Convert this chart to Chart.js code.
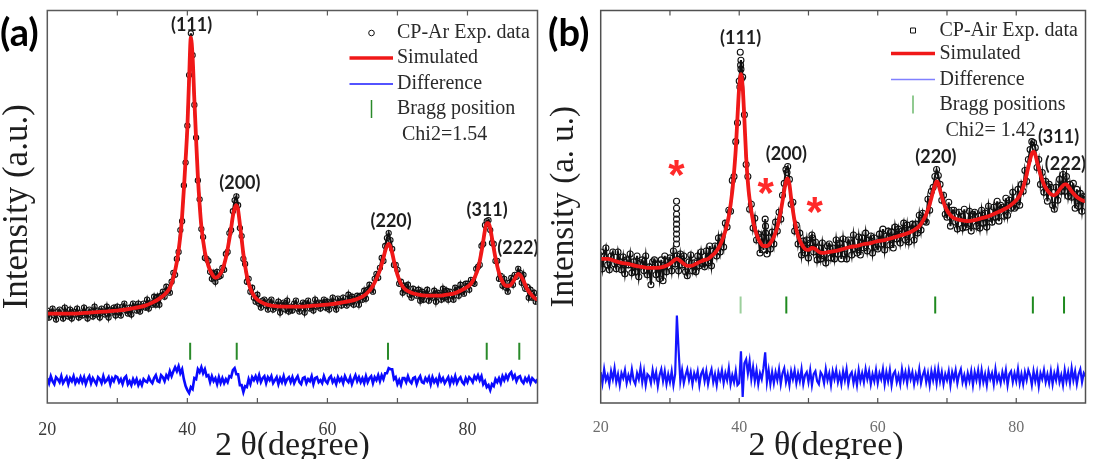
<!DOCTYPE html>
<html>
<head>
<meta charset="utf-8">
<script src="https://cdn.jsdelivr.net/npm/chart.js@4.4.0/dist/chart.umd.min.js"></script>
<style>
  html, body { margin: 0; padding: 0; background: #fff; }
  #wrap { position: relative; width: 1096px; height: 459px; overflow: hidden; }
  canvas { position: absolute; top: 0; }
  #chartA { left: 0; }
  #chartB { left: 548px; }
</style>
</head>
<body>
<div id="wrap">
  <canvas id="chartA" width="548" height="459"></canvas>
  <canvas id="chartB" width="548" height="459"></canvas>
</div>
<script>
// measured patterns share one 2-theta grid: 20 to 90 deg, 0.25 deg step
const thetaStart = 20;
const thetaStep = 0.25;

// ---- (a) CP-Ar ----
const expA = [
  93,86,91,95,88,84,92,94,89,85,96,90,87,94,85,92,89,95,86,91,
  88,96,90,85,94,92,87,97,89,93,86,95,92,89,97,86,94,91,96,88,
  97,91,88,97,100,93,90,96,89,100,97,93,100,92,97,100,96,104,95,101,
  99,107,99,107,99,108,112,107,117,113,111,122,131,129,145,152,174,183,219,242,
  279,330,372,350,300,267,224,205,175,167,146,145,143,132,125,131,122,132,127,128,
  136,134,150,152,171,174,193,204,208,199,176,168,145,140,122,125,112,116,106,102,
  109,100,96,103,104,98,94,102,104,94,99,96,102,91,99,101,94,103,92,97,
  93,100,103,95,92,98,101,91,100,103,95,98,93,104,97,101,95,101,104,96,
  102,94,101,106,98,94,105,103,98,106,101,98,109,101,107,99,105,108,99,108,
  104,113,105,114,119,114,112,125,130,126,136,146,143,158,166,171,164,155,139,139,
  134,120,122,111,118,113,119,109,106,115,111,108,114,103,112,104,110,114,103,108,
  106,113,102,111,109,104,115,106,113,104,112,108,104,116,114,108,119,112,110,120,
  120,114,124,121,120,135,137,139,158,160,179,183,184,174,161,160,143,143,125,128,
  118,125,116,112,121,126,119,129,127,135,131,121,129,115,117,106,114,106,111,102,
  106
];
const diffA = [
  25,20,27,22,19,26,24,21,27,20,23,26,19,25,22,27,20,24,21,26,
  21,26,19,24,27,20,25,22,19,26,24,20,27,21,23,26,19,25,22,27,
  26,21,24,19,25,27,19,22,18,24,20,24,18,22,18,24,22,21,26,22,
  20,25,28,22,21,28,26,22,28,25,32,27,32,36,32,37,30,34,24,17,
  13,10,16,14,25,24,34,31,36,30,34,27,28,21,27,22,25,19,26,20,
  25,20,24,21,27,26,33,35,29,29,18,18,11,17,16,24,19,26,23,27,
  22,28,21,25,27,20,26,23,27,20,23,26,19,25,21,27,20,24,26,21,
  26,20,24,27,21,19,25,26,20,24,22,27,19,25,26,21,23,20,27,22,
  20,25,27,21,24,19,26,22,25,20,27,23,21,26,19,24,28,22,26,21,
  25,20,27,21,25,27,20,26,23,28,22,28,24,30,30,35,34,34,24,26,
  19,23,18,25,25,21,27,22,20,25,26,19,24,27,21,20,25,22,26,19,
  26,21,24,19,27,22,25,20,23,26,19,25,21,27,20,24,26,21,19,25,
  21,26,24,21,27,24,28,23,27,19,22,16,18,13,19,17,24,21,25,20,
  27,23,28,24,29,31,25,28,22,26,27,22,20,25,22,26,20,25,23,21,
  24
];
const simThetaA = [20,22,24,26,28,30,32,34,35,36,37,37.5,38,38.5,39,39.25,39.5,39.75,
  40,40.25,40.5,40.75,41,41.25,41.5,41.75,42,42.5,43,43.5,44,44.5,45,45.5,46,46.25,46.5,46.75,
  47,47.25,47.5,47.75,48,48.5,49,49.5,50,51,52,54,56,58,60,62,64,65,66,66.5,
  67,67.5,68,68.25,68.5,68.75,69,69.25,69.5,70,70.5,71,72,73,74,75,76,77,78,79,
  80,80.5,81,81.5,82,82.25,82.5,82.75,83,83.25,83.5,84,84.5,85,85.5,86,86.5,87,87.25,87.5,
  88,88.5,89,89.5,90];
const simA = [90,90,90,91,92,93,95,98,101,105,111,116,126,142,168,188,215,245,
  277,326,368,348,305,265,228,200,178,152,138,130,126,128,134,146,165,176,188,196,
  199,194,180,165,150,128,115,108,104,100,98,97,97,98,99,101,104,107,113,118,
  125,134,146,153,158,160,157,151,143,129,120,115,111,109,108,108,108,109,110,113,
  117,120,126,135,152,163,174,181,181,176,166,146,131,122,118,118,122,128,130,129,
  123,115,110,106,104];
const braggA = [40.4, 47.05, 68.65, 82.75, 87.4];

// ---- (b) CP-Air ----
const expB = [
  152,135,148,156,139,134,148,152,140,135,152,142,134,147,130,144,139,150,131,142,
  132,148,127,141,144,133,148,129,137,119,142,144,129,140,125,144,123,148,132,143,
  146,133,153,140,148,133,150,139,148,132,128,142,149,133,141,132,148,138,152,140,
  137,153,141,158,138,153,158,148,166,152,167,157,181,177,194,193,224,228,263,282,
  324,345,328,290,240,228,195,200,176,186,164,170,151,167,154,185,150,166,155,172,
  160,182,173,192,185,209,221,235,238,225,200,202,173,179,160,171,149,163,151,164,
  146,161,169,152,162,144,156,145,161,148,141,158,160,146,156,145,164,150,161,145,
  165,150,145,164,161,149,169,155,151,167,149,166,156,171,153,164,168,151,166,157,
  155,170,160,175,154,168,173,159,172,156,177,165,175,161,173,181,164,179,162,175,
  180,164,180,171,189,174,191,183,182,205,194,213,217,228,235,229,220,204,209,190,
  187,202,178,194,194,182,175,192,188,176,195,177,180,193,173,190,192,178,188,176,
  194,181,191,177,198,186,182,197,187,203,183,199,197,188,206,189,204,196,212,196,
  198,215,199,220,213,234,223,245,255,263,262,257,237,245,220,232,212,223,203,220,
  217,199,195,217,204,225,213,230,213,228,208,220,207,221,196,215,198,211,193,208,
  207
];
// stacked readings off the regular grid (impurity spikes and peak tops)
const extraThetaB = [30.95,30.95,30.95,30.95,30.95,30.95,30.95,30.95,30.95,
  40.1,40.15,40.2,40.25,40.3,43.8,43.8,46.9,50.6];
const extraIntB = [160,165,170,175,180,185,190,196,203,
  318,353,340,336,326,178,171,232,166];
const diffB = [
  31,20,34,23,28,19,32,24,35,21,29,18,30,25,33,20,28,22,34,23,
  19,30,24,35,21,32,18,29,27,20,33,23,31,17,28,34,22,32,19,29,
  21,32,18,29,88,53,22,33,20,28,34,23,31,19,30,24,32,18,29,33,
  22,32,19,28,34,21,29,18,31,24,33,20,30,23,35,19,28,21,32,18,
  20,52,6,40,44,30,42,24,36,22,33,19,30,24,35,51,21,33,19,31,
  20,31,23,34,19,30,35,21,29,18,32,24,33,20,30,22,34,19,28,31,
  21,33,18,29,32,22,19,31,28,20,34,23,30,18,32,24,33,21,29,19,
  32,23,34,19,28,31,20,29,18,33,22,30,21,34,24,32,19,29,22,33,
  20,30,24,34,19,31,22,33,18,29,32,21,28,19,34,23,31,20,33,24,
  31,19,29,22,34,20,28,33,21,30,18,32,23,33,20,34,22,31,19,29,
  23,32,18,31,24,33,20,29,34,21,28,19,30,22,32,18,31,23,33,20,
  33,21,29,18,32,24,30,19,34,22,28,20,31,23,33,18,29,32,21,30,
  22,34,20,29,19,31,23,33,28,18,32,22,31,17,30,24,33,21,29,20,
  32,19,30,23,34,21,28,18,33,22,31,20,35,23,32,19,29,34,21,30,
  27
];
const simThetaB = [20,21,22,23,24,25,26,27,28,29,30,30.5,31,31.5,32,32.5,33,34,35,35.5,
  36,36.5,37,37.5,38,38.5,39,39.25,39.5,39.75,40,40.25,40.5,40.75,41,41.25,41.5,42,42.5,43,
  43.5,44,44.5,45,45.5,46,46.25,46.5,46.75,47,47.25,47.5,48,48.5,49,49.5,50,50.5,51,51.5,
  52,53,54,55,56,57,58,59,60,61,62,63,64,65,66,66.5,67,67.5,68,68.25,
  68.5,68.75,69,69.5,70,70.5,71,72,73,74,75,76,77,78,79,80,80.5,81,81.5,82,
  82.25,82.5,82.75,83,83.5,84,84.5,85,85.5,86,86.5,87,87.25,87.5,88,88.5,89,89.5,90];
const simB = [145,145,143,141,140,138,137,136,136,137,140,143,145,143,140,138,138,141,144,145,
  148,151,156,163,173,188,213,232,255,288,318,331,318,285,248,222,205,183,170,162,
  158,158,161,167,177,193,203,214,223,226,220,206,183,168,160,155,154,156,155,152,
  151,152,153,155,157,158,160,161,163,164,166,168,170,173,178,183,190,200,213,219,
  223,221,214,202,194,189,186,184,183,184,186,188,191,194,198,204,209,217,230,245,
  251,253,250,243,230,220,214,210,209,212,217,220,220,218,213,209,206,204,203];
const braggB = [40.2, 46.8, 68.3, 82.4, 86.9];

// annotations
const peakNames = ['(111)', '(200)', '(220)', '(311)', '(222)'];
const labelThetaA = [40.6, 47.5, 69.1, 82.8, 87.2];
const labelIntA = [380, 221, 183, 194, 156];
const labelThetaB = [40.2, 46.8, 68.4, 86.1, 87.1];
const labelIntB = [367, 250, 247, 268, 240];
const starTheta = [30.94, 43.83, 50.9];
const starInt = [236, 218, 199];
const legendA = ['CP-Ar Exp. data', 'Simulated', 'Difference', 'Bragg position', 'Chi2=1.54'];
const legendB = ['CP-Air Exp. data', 'Simulated', 'Difference', 'Bragg positions', 'Chi2= 1.42'];
const tickMarks = [30, 40, 50, 60, 70, 80];

const RED = '#f01818';
const SERIF = '"Liberation Serif", "Times New Roman", serif';

function onGrid(values) {
  return values.map((v, i) => ({ x: thetaStart + i * thetaStep, y: v }));
}
function pairs(xs, ys) {
  return xs.map((v, i) => ({ x: v, y: ys[i] }));
}

function decor(o) {
  return {
    id: 'decor',
    afterDraw(chart) {
      const { ctx, chartArea: a } = chart;
      const x = chart.scales.x, y = chart.scales.y;
      ctx.save();

      // hkl labels
      ctx.fillStyle = '#1e1e1e';
      ctx.font = 'bold 18px Lato';
      ctx.textAlign = 'center';
      ctx.textBaseline = 'middle';
      peakNames.forEach((t, i) => {
        ctx.fillText(t, x.getPixelForValue(o.labelTheta[i]), y.getPixelForValue(o.labelInt[i]));
      });

      // impurity asterisks
      if (o.stars) {
        ctx.fillStyle = '#ff2a2a';
        ctx.font = 'bold 42px "Liberation Sans"';
        ctx.textBaseline = 'alphabetic';
        const m = ctx.measureText('*');
        const shift = (m.actualBoundingBoxAscent - m.actualBoundingBoxDescent) / 2;
        starTheta.forEach((t, i) => {
          ctx.fillText('*', x.getPixelForValue(t), y.getPixelForValue(starInt[i]) + shift);
        });
      }

      // frame with inward ticks
      ctx.strokeStyle = o.frameColor;
      ctx.lineWidth = 1.5;
      ctx.strokeRect(a.left, a.top, a.right - a.left, a.bottom - a.top);
      ctx.beginPath();
      tickMarks.forEach(v => {
        const px = x.getPixelForValue(v);
        ctx.moveTo(px, a.bottom); ctx.lineTo(px, a.bottom - 5);
        ctx.moveTo(px, a.top); ctx.lineTo(px, a.top + 5);
      });
      ctx.lineWidth = 1.2;
      ctx.stroke();

      // panel tag
      ctx.fillStyle = '#000';
      ctx.font = 'bold 38px Lato';
      ctx.textAlign = 'left';
      ctx.textBaseline = 'middle';
      ctx.fillText(o.tag, 0, 34);

      // legend
      const L = o.legend;
      ctx.font = '20px ' + SERIF;
      ctx.fillStyle = '#2a2a2a';
      o.legendText.forEach((t, i) => {
        ctx.fillText(t, i === 4 ? L.chiX : L.textX, L.rows[i]);
      });
      ctx.strokeStyle = '#111';
      ctx.lineWidth = 1;
      ctx.beginPath();
      if (o.square) {
        ctx.rect(L.symX - 2.5, L.rows[0] - 2.5, 5, 5);
      } else {
        ctx.arc(L.symX, L.rows[0], 2.8, 0, Math.PI * 2);
      }
      ctx.stroke();
      ctx.strokeStyle = RED;
      ctx.lineWidth = 3.5;
      ctx.beginPath(); ctx.moveTo(L.lineL, L.rows[1]); ctx.lineTo(L.lineR, L.rows[1]); ctx.stroke();
      ctx.strokeStyle = o.legendBlue;
      ctx.lineWidth = 1.3;
      ctx.beginPath(); ctx.moveTo(L.lineL, L.rows[2]); ctx.lineTo(L.lineR, L.rows[2]); ctx.stroke();
      ctx.strokeStyle = o.legendGreen;
      ctx.lineWidth = 1.5;
      ctx.beginPath(); ctx.moveTo(L.symX, L.rows[3] - 9); ctx.lineTo(L.symX, L.rows[3] + 9); ctx.stroke();

      ctx.restore();
    }
  };
}

function makeChart(id, o) {
  const datasets = [
    { data: pairs(o.simTheta, o.sim), showLine: true, borderColor: RED, borderWidth: 3.8,
      pointRadius: 0, cubicInterpolationMode: 'monotone', order: 1 },
    { data: onGrid(o.exp), showLine: true, borderColor: '#111', borderWidth: o.expWidth,
      pointRadius: o.markerRadius, pointBorderWidth: 1.1, pointBorderColor: '#111',
      pointBackgroundColor: 'rgba(0,0,0,0)', order: 2 },
    { data: onGrid(o.diff), showLine: true, borderColor: o.diffColor, borderWidth: o.diffWidth,
      pointRadius: 0, order: 3 },
    { data: o.bragg.map(v => ({ x: v, y: o.braggLevel })), pointStyle: 'line', pointRotation: 90,
      pointRadius: 8.5, pointBorderWidth: 2,
      pointBorderColor: o.braggColors, order: 4 }
  ];
  if (o.extraTheta) {
    datasets.push({ data: pairs(o.extraTheta, o.extraInt), showLine: false,
      pointRadius: o.markerRadius, pointBorderWidth: 1.1, pointBorderColor: '#111',
      pointBackgroundColor: 'rgba(0,0,0,0)', order: 2 });
  }
  return new Chart(document.getElementById(id), {
    type: 'scatter',
    data: { datasets },
    options: {
      responsive: false,
      animation: false,
      devicePixelRatio: 1,
      events: [],
      layout: { padding: o.pad },
      plugins: { legend: { display: false }, tooltip: { enabled: false } },
      scales: {
        x: {
          type: 'linear', min: 20, max: 90,
          grid: { display: false }, border: { display: false },
          afterBuildTicks: s => { s.ticks = s.ticks.filter(t => t.value % 20 === 0); },
          afterFit: s => { s.height = 56; },
          ticks: { stepSize: 20, padding: o.tickPad, color: o.tickColor, maxRotation: 0, autoSkip: false,
            font: { family: SERIF, size: o.tickSize } },
          title: { display: true, text: o.xTitle, color: '#1e1e1e', padding: 0,
            font: { family: SERIF, size: 34, lineHeight: 0.76 } }
        },
        y: {
          min: 0, max: 395,
          grid: { display: false }, border: { display: false },
          ticks: { display: false },
          afterFit: s => { s.width = o.yWidth; },
          title: { display: true, text: o.yTitle, color: '#1e1e1e', padding: 0,
            font: { family: SERIF, size: o.yTitleSize, lineHeight: 1 } }
        }
      }
    },
    plugins: [decor(o)]
  });
}

makeChart('chartA', {
  exp: expA, diff: diffA, simTheta: simThetaA, sim: simA, markerRadius: 2.6, expWidth: 2.2,
  bragg: braggA, braggLevel: 52, braggColors: '#2a8a2a',
  diffColor: '#0a0aff', diffWidth: 2.6, frameColor: '#5a5a5a',
  pad: { left: 0, right: 9.4, top: 8.3, bottom: 0 }, yWidth: 47.3,
  tickPad: 8.5, tickSize: 18, tickColor: '#3a3a3a',
  xTitle: '2 θ(degree)', yTitle: 'Intensity (a.u.)', yTitleSize: 35,
  labelTheta: labelThetaA, labelInt: labelIntA, stars: false, tag: '(a)',
  legendText: legendA, square: false, legendBlue: '#1a1aff', legendGreen: '#2a8a2a',
  legend: { symX: 371.5, textX: 397, chiX: 402, lineL: 349.5, lineR: 393, rows: [33, 58, 84, 109, 135] }
});

makeChart('chartB', {
  exp: expB, diff: diffB, simTheta: simThetaB, sim: simB, markerRadius: 3, expWidth: 2,
  extraTheta: extraThetaB, extraInt: extraIntB,
  bragg: braggB, braggLevel: 98.5, braggColors: ['#9ccf9c', '#1f8a1f', '#1f8a1f', '#1f8a1f', '#1f8a1f'],
  diffColor: '#1414ff', diffWidth: 2.2, frameColor: '#505050',
  pad: { left: 0, right: 5.3, top: 8.3, bottom: 0 }, yWidth: 52.7,
  tickPad: 7, tickSize: 16, tickColor: '#6e6e6e',
  xTitle: '2 θ(degree)    ', yTitle: 'Intensity (a. u.)', yTitleSize: 33,
  labelTheta: labelThetaB, labelInt: labelIntB, stars: true, tag: '(b)',
  legendText: legendB, square: true, legendBlue: '#8080ff', legendGreen: '#6cb86c',
  legend: { symX: 365, textX: 391.5, chiX: 397.5, lineL: 343, lineR: 387, rows: [30.5, 53.5, 79.5, 104.5, 131] }
});
</script>
</body>
</html>
